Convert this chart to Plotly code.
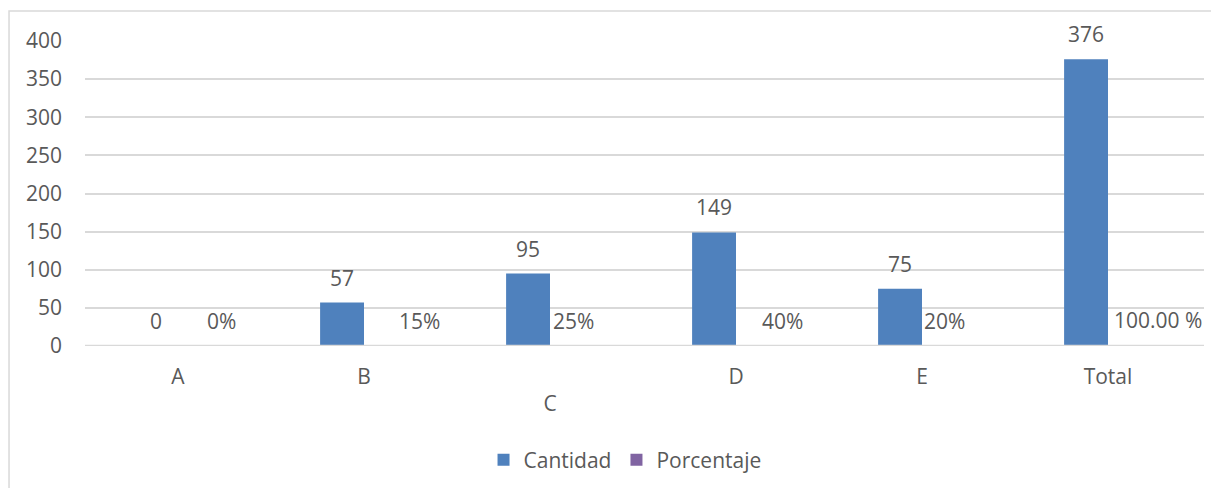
import plotly.graph_objects as go

categories = ["A", "B", "C", "D", "E", "Total"]
tick_labels = ["A", "B", " <br>C", "D", "E", "Total"]
cantidad = [0, 57, 95, 149, 75, 376]
porcentaje = [0.0, 0.15, 0.25, 0.40, 0.20, 1.0]
porcentaje_labels = ["0%", "15%", "25%", "40%", "20%", "100.00 %"]
y_ticks = [0, 50, 100, 150, 200, 250, 300, 350, 400]

# pixel offsets of the percentage labels from the category centre
pct_label_xshift = [43, 55, 23, 46, 22, 50]

BLUE = "#4F81BD"
PURPLE = "#8064A2"
TEXT = "#595959"
GRID = "#D9D9D9"
FONT = "Open Sans"
FS = 21

fig = go.Figure()
fig.add_trace(go.Bar(name="Cantidad", x=categories, y=cantidad,
                     marker=dict(color=BLUE, line=dict(width=0))))
fig.add_trace(go.Bar(name="Porcentaje", x=categories, y=porcentaje,
                     marker=dict(color=PURPLE, line=dict(width=0))))

annotations = []
for c, v in zip(categories, cantidad):
    annotations.append(dict(x=c, y=v, xref="x", yref="y", text=str(v),
                            showarrow=False, xshift=-22, yshift=25,
                            xanchor="center", yanchor="middle",
                            font=dict(family=FONT, size=FS, color=TEXT)))
for c, v, t, dx in zip(categories, porcentaje, porcentaje_labels, pct_label_xshift):
    annotations.append(dict(x=c, y=v, xref="x", yref="y", text=t,
                            showarrow=False, xshift=dx, yshift=25,
                            xanchor="center", yanchor="middle",
                            font=dict(family=FONT, size=FS, color=TEXT)))

fig.update_layout(
    width=1219, height=488,
    margin=dict(l=77, r=23, t=33, b=150, pad=0, autoexpand=False),
    paper_bgcolor="white", plot_bgcolor="white",
    barmode="group", bargap=0.528, bargroupgap=0,
    font=dict(family=FONT, size=FS, color=TEXT),
    showlegend=True,
    legend=dict(orientation="h", x=0.4826, xanchor="center",
                y=-0.374, yanchor="middle",
                font=dict(family=FONT, size=FS, color=TEXT),
                itemwidth=30, traceorder="normal"),
    annotations=annotations,
    shapes=[
        dict(type="rect", xref="paper", yref="paper",
             x0=-0.0679, x1=1.05, y0=-0.7, y1=1.098,
             line=dict(color=GRID, width=1.5), layer="below"),
        # category-axis baseline, drawn above the bars like Excel does
        dict(type="line", xref="paper", yref="y", x0=0, x1=1, y0=0, y1=0,
             line=dict(color=GRID, width=2.5), layer="above"),
    ],
)
fig.update_xaxes(tickmode="array", tickvals=categories, ticktext=tick_labels,
                 showgrid=False, showline=False,
                 ticks="", ticklabelstandoff=16, automargin=False,
                 tickfont=dict(family=FONT, size=FS, color=TEXT))
fig.update_yaxes(range=[0, 400], tickmode="array", tickvals=y_ticks,
                 showgrid=True, gridcolor=GRID, gridwidth=1.5,
                 zeroline=False, showline=False, ticks="",
                 ticklabelstandoff=22, automargin=False,
                 tickfont=dict(family=FONT, size=FS, color=TEXT))

fig.write_html("out.html")
